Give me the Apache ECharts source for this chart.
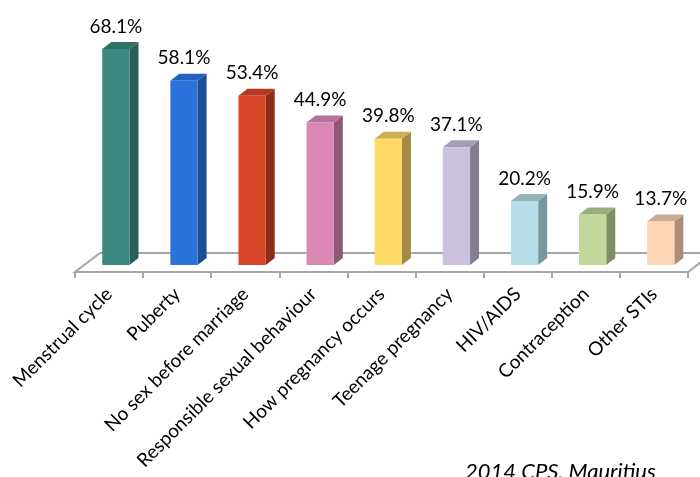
<!DOCTYPE html>
<html>
<head>
<meta charset="utf-8">
<title>Topics covered in sex education</title>
<script src="https://cdn.jsdelivr.net/npm/echarts@6/dist/echarts.min.js"></script>
<style>
  html, body { margin: 0; padding: 0; background: #ffffff; }
  #chart { width: 700px; height: 477px; }
</style>
</head>
<body>
<div id="chart"></div>
<script>
// Topics and the share of respondents (%)
const categories = [
  'Menstrual cycle',
  'Puberty',
  'No sex before marriage',
  'Responsible sexual behaviour',
  'How pregnancy occurs',
  'Teenage pregnancy',
  'HIV/AIDS',
  'Contraception',
  'Other STIs'
];
const values = [68.1, 58.1, 53.4, 44.9, 39.8, 37.1, 20.2, 15.9, 13.7];

// Face colours for each bar: front, top, side
const frontColors = ['#3b8a80', '#2b73db', '#d94528', '#db88b4', '#fed966', '#ccc1dc', '#b7dde8', '#c3d69b', '#fdd5b5'];
const topColors   = ['#30716a', '#2560c0', '#b53a22', '#b3729a', '#cdae52', '#a69cb4', '#93b2bc', '#9cab7c', '#c9ab92'];
const sideColors  = ['#2a5e57', '#1e4c95', '#8c2c1a', '#8c5a74', '#a58c45', '#857d90', '#7898a0', '#7f8c64', '#a98f7a'];

const FONT = 'Lato, "Open Sans", sans-serif';
const floorColor = '#a6a6a6';

const chart = echarts.init(document.getElementById('chart'), null, { renderer: 'canvas' });

// Bars sit a little behind the front edge of the floor
const LIFT = 7;
const DEPTH_X = 9, DEPTH_Y = -7;
// Floor receding edge
const FLOOR_DX = 25, FLOOR_DY = -19;

function renderFloor(params, api) {
  const bw = api.size([1, 0])[0];
  const first = api.coord([0, 0]);
  const last = api.coord([categories.length - 1, 0]);
  const x0 = first[0] - bw / 2;
  const x1 = last[0] + bw / 2;
  const y = first[1];
  return {
    type: 'polygon',
    shape: {
      points: [
        [x0, y], [x1, y],
        [x1 + FLOOR_DX, y + FLOOR_DY], [x0 + FLOOR_DX, y + FLOOR_DY]
      ]
    },
    style: { fill: '#ffffff', stroke: floorColor, lineWidth: 2 },
    silent: true
  };
}

function renderBar(params, api) {
  const i = api.value(0);
  const v = api.value(1);
  const base = api.coord([i, 0]);
  const top = api.coord([i, v]);
  const bw = api.size([1, 0])[0];
  const left = base[0] - bw * 0.1;
  const right = base[0] + bw * 0.3;
  const y0 = base[1] - LIFT;
  const y1 = top[1] - LIFT;
  return {
    type: 'group',
    children: [
      {
        type: 'polygon',
        shape: { points: [[right, y1], [right + DEPTH_X, y1 + DEPTH_Y], [right + DEPTH_X, y0 + DEPTH_Y], [right, y0]] },
        style: { fill: sideColors[i] }
      },
      {
        type: 'polygon',
        shape: { points: [[left, y1], [left + DEPTH_X, y1 + DEPTH_Y], [right + DEPTH_X, y1 + DEPTH_Y], [right, y1]] },
        style: { fill: topColors[i] }
      },
      {
        type: 'rect',
        shape: { x: left, y: y1, width: right - left, height: y0 - y1 },
        style: { fill: frontColors[i] }
      },
      {
        type: 'text',
        x: (left + right) / 2,
        y: y1 - 13,
        style: {
          text: v.toFixed(1) + '%',
          fill: '#000000',
          font: '19px ' + FONT,
          align: 'center',
          verticalAlign: 'bottom'
        }
      }
    ]
  };
}

chart.setOption({
  animation: false,
  backgroundColor: '#ffffff',
  grid: { left: 75, right: 12, top: 50, bottom: 205, containLabel: false },
  xAxis: {
    type: 'category',
    data: categories,
    boundaryGap: true,
    axisLine: { show: false },
    axisTick: { show: true, length: 6, lineStyle: { color: floorColor, width: 2 } },
    axisLabel: {
      interval: 0,
      rotate: 45,
      margin: 19,
      padding: [9, 0, 0, 0],
      color: '#000000',
      fontFamily: FONT,
      fontSize: 19
    },
    splitLine: { show: false }
  },
  yAxis: {
    type: 'value',
    min: 0,
    max: 70,
    show: false
  },
  graphic: [
    {
      type: 'text',
      left: 465,
      top: 461,
      style: {
        text: '2014 CPS, Mauritius',
        fill: '#000000',
        font: 'italic 22px ' + FONT
      }
    }
  ],
  series: [
    {
      type: 'custom',
      renderItem: renderFloor,
      data: [[0, 0]],
      z: 1,
      silent: true
    },
    {
      type: 'custom',
      renderItem: renderBar,
      data: values.map((v, i) => [i, v]),
      encode: { x: 0, y: 1 },
      z: 2
    }
  ]
});
</script>
</body>
</html>
